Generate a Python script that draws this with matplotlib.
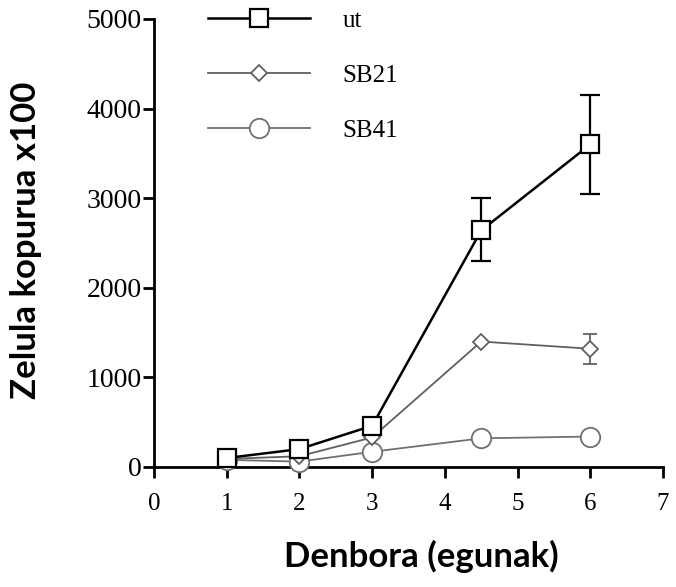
import matplotlib.pyplot as plt
from matplotlib.lines import Line2D

# days after seeding
days = [1, 2, 3, 4.5, 6]

ut = [100, 200, 460, 2640, 3600]
ut_err_low = [0, 0, 0, 340, 550]
ut_err_high = [0, 0, 0, 360, 550]

sb21 = [90, 120, 330, 1400, 1320]
sb21_err_low = [0, 0, 0, 0, 170]
sb21_err_high = [0, 0, 0, 0, 160]

sb41 = [80, 60, 170, 320, 340]

x_ticks = [0, 1, 2, 3, 4, 5, 6, 7]
y_ticks = [0, 1000, 2000, 3000, 4000, 5000]

serif = 'Liberation Serif'
bold_sans = 'Lato'

fig = plt.figure(figsize=(6.76, 5.87), dpi=100)
ax = fig.add_axes([154 / 676, 1 - 467 / 587, (663 - 154) / 676, (467 - 19) / 587])

ax.errorbar(days, ut, yerr=[ut_err_low, ut_err_high], color='black', lw=1.8,
            marker='s', ms=13, mfc='white', mec='black', mew=1.6,
            capsize=7, elinewidth=1.6, capthick=1.6, clip_on=False, zorder=5)
ax.errorbar(days, sb21, yerr=[sb21_err_low, sb21_err_high], color='#606060', lw=1.3,
            marker='D', ms=8, mfc='white', mec='#606060', mew=1.3,
            capsize=5, elinewidth=1.3, capthick=1.6, clip_on=False, zorder=4)
ax.plot(days, sb41, color='#707070', lw=1.3, marker='o', ms=14,
        mfc='white', mec='#707070', mew=1.3, clip_on=False, zorder=3)

ax.set_xlim(0, 7)
ax.set_ylim(0, 5000)
ax.set_xticks(x_ticks)
ax.set_yticks(y_ticks)
ax.spines['top'].set_visible(False)
ax.spines['right'].set_visible(False)
for s in ('left', 'bottom'):
    ax.spines[s].set_linewidth(2)
ax.tick_params(axis='both', direction='out', length=8, width=2)
ax.tick_params(axis='y', pad=1)
ax.tick_params(axis='x', pad=11)
for lab in ax.get_yticklabels():
    lab.set_fontfamily(serif)
    lab.set_fontsize(20)
for lab in ax.get_xticklabels():
    lab.set_fontfamily(serif)
    lab.set_fontsize(18)

fig.text(421 / 676, 1 - 556 / 587, 'Denbora (egunak)', fontfamily=bold_sans,
         fontweight='bold', fontsize=25, ha='center', va='center')
fig.text(26 / 676, 1 - 240 / 587, 'Zelula kopurua x100', fontfamily=bold_sans,
         fontweight='bold', fontsize=25, ha='center', va='center', rotation=90)

handles = [
    Line2D([], [], color='black', lw=1.8, marker='s', ms=13, mfc='white', mew=1.6),
    Line2D([], [], color='#606060', lw=1.3, marker='D', ms=8, mfc='white', mew=1.3),
    Line2D([], [], color='#707070', lw=1.3, marker='o', ms=14, mfc='white', mew=1.3),
]
leg = fig.legend(handles, ['ut', 'SB21', 'SB41'], loc='upper left',
                 bbox_to_anchor=(185 / 676, 1.022), frameon=False,
                 handlelength=4.1, handletextpad=1.3, labelspacing=1.3,
                 prop={'family': serif, 'size': 18})

fig.savefig('out.png', dpi=100)
